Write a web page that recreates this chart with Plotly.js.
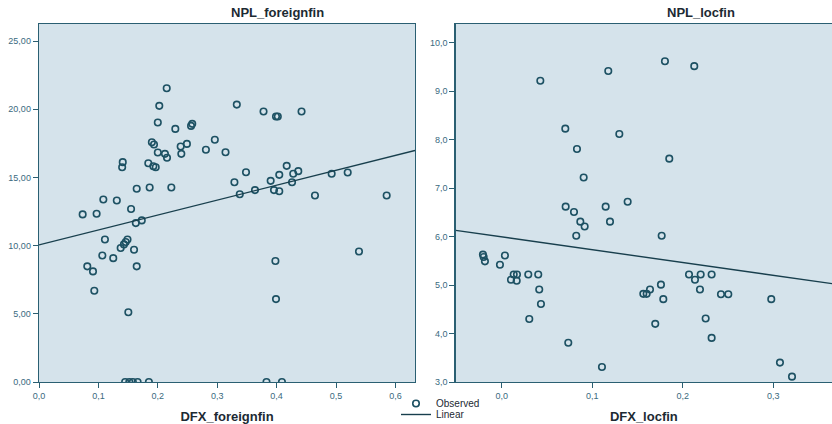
<!DOCTYPE html>
<html>
<head>
<meta charset="utf-8">
<script src="https://cdn.plot.ly/plotly-3.0.1.min.js"></script>
<style>html,body{margin:0;padding:0;background:#fff;}#chart{width:832px;height:424px;}</style>
</head>
<body>
<div id="chart"></div>
<script>
// ---- Data ----
var foreignX = [0.215,0.2025,0.200,0.333,0.378,0.399,0.402,0.442,0.2295,0.256,0.258,0.296,0.281,0.314,0.249,0.2385,0.2396,0.190,0.1936,0.200,0.212,0.2155,0.184,0.1925,0.1965,0.141,0.140,0.1645,0.1863,0.2228,0.1083,0.131,0.155,0.0735,0.097,0.329,0.3485,0.338,0.3636,0.390,0.3956,0.4045,0.4045,0.417,0.426,0.428,0.4365,0.4646,0.4927,0.5197,0.5853,0.163,0.173,0.111,0.149,0.146,0.143,0.1375,0.160,0.1066,0.125,0.0813,0.0909,0.1645,0.0931,0.1504,0.398,0.399,0.5387,0.145,0.152,0.158,0.166,0.185,0.383,0.409];
var foreignY = [21.54,20.25,19.03,20.34,19.83,19.47,19.47,19.83,18.56,18.78,18.93,17.76,17.03,16.85,17.46,17.27,16.73,17.58,17.41,16.83,16.73,16.44,16.04,15.82,15.75,16.12,15.75,14.17,14.26,14.26,13.38,13.31,12.68,12.29,12.34,14.65,15.38,13.77,14.07,14.75,14.07,13.99,15.19,15.85,14.65,15.27,15.46,13.68,15.27,15.36,13.68,11.65,11.85,10.45,10.45,10.26,10.09,9.82,9.70,9.28,9.08,8.48,8.11,8.48,6.69,5.11,8.87,6.08,9.57,0,0,0,0,0,0,0];
var foreignLineX = [0, 0.633];
var foreignLineY = [10.05, 16.98];

var locX = [0.0427,0.1178,0.1804,0.2128,0.0703,0.130,0.0832,0.1852,0.0906,0.0707,0.0799,0.1149,0.1392,0.0869,0.0917,0.1197,0.0824,0.1768,-0.0207,-0.0199,-0.0185,0.0036,-0.0019,0.0133,0.0169,0.0103,0.0166,0.0294,0.0404,0.0415,0.0434,0.0305,0.0736,0.1108,0.1565,0.1602,0.1639,0.176,0.1786,0.1697,0.207,0.2136,0.2199,0.232,0.2191,0.2423,0.2504,0.2254,0.232,0.2979,0.3075,0.3208];
var locY = [9.22,9.42,9.62,9.52,8.23,8.12,7.81,7.61,7.22,6.62,6.51,6.62,6.72,6.31,6.21,6.31,6.02,6.02,5.63,5.58,5.49,5.61,5.42,5.22,5.22,5.11,5.09,5.22,5.22,4.91,4.61,4.30,3.81,3.31,4.82,4.82,4.91,5.01,4.71,4.20,5.22,5.11,5.22,5.22,4.91,4.81,4.81,4.31,3.91,4.71,3.40,3.11];
var locLineX = [-0.0508, 0.365];
var locLineY = [6.13, 5.03];

var titles = ["NPL_foreignfin", "NPL_locfin"];
var xTitles = ["DFX_foreignfin", "DFX_locfin"];
var legendNames = ["Observed", "Linear"];

// ---- Styles ----
var edge = '#2a5f72';
var markerCol = '#1d5163';
var lineCol = '#183f4d';
var tickFont = {family: 'Liberation Sans, Arial, sans-serif', size: 9, color: '#3a6a80'};
var titleFont = {family: 'Liberation Sans, Arial, sans-serif', size: 13, color: '#1c2a33', weight: 'bold'};
var legFont = {family: 'Liberation Sans, Arial, sans-serif', size: 10, color: '#1c2a33'};

function markers(x, y, xa, ya, show) {
  return {x: x, y: y, xaxis: xa, yaxis: ya, type: 'scatter', mode: 'markers',
    name: legendNames[0], showlegend: show, legend: 'legend',
    marker: {symbol: 'circle-open', size: 6.5, color: markerCol, line: {width: 1.6, color: markerCol}},
    hoverinfo: 'skip'};
}
function fitLine(x, y, xa, ya, show) {
  return {x: x, y: y, xaxis: xa, yaxis: ya, type: 'scatter', mode: 'lines',
    name: legendNames[1], showlegend: show, legend: 'legend2',
    line: {color: lineCol, width: 1.4}, hoverinfo: 'skip'};
}

var data = [
  markers(foreignX, foreignY, 'x', 'y', true),
  fitLine(foreignLineX, foreignLineY, 'x', 'y', true),
  markers(locX, locY, 'x2', 'y2', false),
  fitLine(locLineX, locLineY, 'x2', 'y2', false)
];

function axisBase() {
  return {showline: true, mirror: true, linecolor: edge, linewidth: 1.3,
    ticks: 'outside', ticklen: 5, tickcolor: edge, tickwidth: 1,
    showgrid: false, zeroline: false, tickfont: tickFont, automargin: false, fixedrange: true};
}

var xaxis = Object.assign(axisBase(), {domain: [39/832, 415/832], range: [0, 0.633], dtick: 0.1, tick0: 0, tickformat: '.1f', anchor: 'y',
  title: {text: xTitles[0], font: titleFont, standoff: 14}});
var yaxis = Object.assign(axisBase(), {range: [0, 26.25], dtick: 5, tick0: 0, tickformat: '.2f', anchor: 'x'});
var xaxis2 = Object.assign(axisBase(), {domain: [455.7/832, 1], range: [-0.0508, 0.365], dtick: 0.1, tick0: 0, tickformat: '.1f', anchor: 'y2',
  title: {text: xTitles[1], font: titleFont, standoff: 14}});
var yaxis2 = Object.assign(axisBase(), {range: [3, 10.39], dtick: 1, tick0: 0, tickformat: '.1f', anchor: 'x2'});

var layout = {
  width: 832, height: 424,
  margin: {l: 0, r: 0, t: 24, b: 42, pad: 0, autoexpand: false},
  paper_bgcolor: '#ffffff', plot_bgcolor: '#d5e3eb',
  separators: ',.',
  xaxis: xaxis, yaxis: yaxis, xaxis2: xaxis2, yaxis2: yaxis2,
  showlegend: true,
  legend: {x: 396/832, xref: 'container', xanchor: 'left', y: 1 - 389/424, yref: 'container', yanchor: 'top', bgcolor: 'rgba(0,0,0,0)',
    font: legFont, itemwidth: 30, borderwidth: 0},
  legend2: {x: 396/832, xref: 'container', xanchor: 'left', y: 1 - 400/424, yref: 'container', yanchor: 'top', bgcolor: 'rgba(0,0,0,0)',
    font: legFont, itemwidth: 30, borderwidth: 0},
  annotations: [
    {text: titles[0], xref: 'paper', yref: 'paper', x: 277/832, y: (382-13)/358, xanchor: 'center', yanchor: 'middle', showarrow: false, font: titleFont},
    {text: titles[1], xref: 'paper', yref: 'paper', x: 701/832, y: (382-13)/358, xanchor: 'center', yanchor: 'middle', showarrow: false, font: titleFont}
  ]
};

Plotly.newPlot('chart', data, layout, {staticPlot: true, displayModeBar: false});
</script>
</body>
</html>
